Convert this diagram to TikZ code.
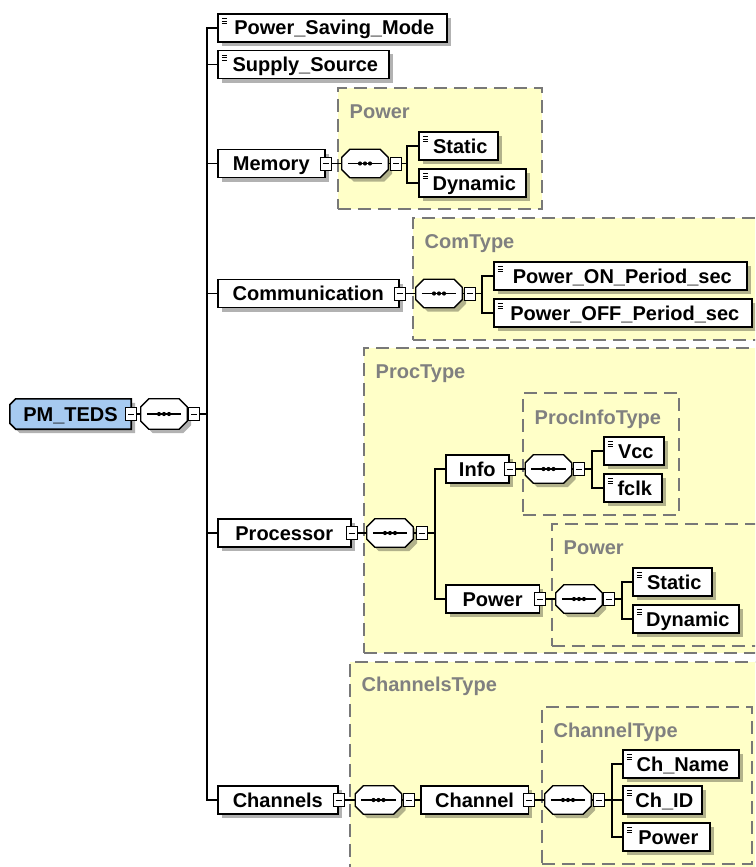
\documentclass[tikz,border=0pt]{standalone}
\usepackage{fontspec}
\setmainfont{Liberation Sans}
\usetikzlibrary{calc,shadows,backgrounds}
\definecolor{typefill}{RGB}{255,255,200}
\definecolor{typedash}{RGB}{120,120,120}
\definecolor{typetext}{RGB}{128,128,128}
\definecolor{globfill}{RGB}{166,202,240}
\newcommand\elemfont{\fontsize{20pt}{24pt}\selectfont\bfseries}
\newcommand\octpath[4]{\path[#4] ($(#1.north west)+(8+#2,#3)$) -- ($(#1.north east)+(-8+#2,#3)$) -- ($(#1.north east)+(#2,8+#3)$) -- ($(#1.south east)+(#2,-8+#3)$) -- ($(#1.south east)+(-8+#2,#3)$) -- ($(#1.south west)+(8+#2,#3)$) -- ($(#1.south west)+(#2,-8+#3)$) -- ($(#1.north west)+(#2,8+#3)$) -- cycle;}
\newcommand\seqnode[3][28]{%
  \node[seqbox, minimum height=#1pt] (#2) at (#3) {};
  \octpath{#2}{4}{4}{fill=black, opacity=0.3}
  \octpath{#2}{0}{0}{draw=black, fill=white, line width=1.3pt}
  \draw[line width=1.4pt] ($(#2.west)+(6,0)$) -- ($(#2.east)+(-6,0)$);
  \fill ($(#2.center)+(-5,0)$) circle (2.1pt) (#2.center) circle (2.1pt) ($(#2.center)+(5,0)$) circle (2.1pt);
}
\tikzset{
  elem/.style={rectangle, draw=black, line width=1.6pt, fill=white, inner sep=0pt,
    minimum height=28pt, anchor=west, font=\elemfont, text height=14pt, text depth=0pt,
    drop shadow={shadow xshift=4pt, shadow yshift=-4pt, fill=black, opacity=0.3}},
  simpel/.style={elem, path picture={\draw[line width=.9pt]
    ([xshift=4pt,yshift=-4.5pt]path picture bounding box.north west) -- ++(5.5pt,0pt)
    ([xshift=4pt,yshift=-7pt]path picture bounding box.north west) -- ++(5.5pt,0pt)
    ([xshift=4pt,yshift=-9.5pt]path picture bounding box.north west) -- ++(5.5pt,0pt);}},
  typebox/.style={rectangle, anchor=north west, inner sep=0pt, draw=typedash, fill=typefill,
    line width=1.6pt, dash pattern=on 13pt off 7pt},
  typelabel/.style={anchor=west, text=typetext, font=\elemfont, inner sep=0pt, text height=14pt, text depth=0pt},
  minusbox/.style={rectangle, draw=black, fill=white, line width=1pt, minimum width=11pt,
    minimum height=13pt, inner sep=0pt, path picture={\draw[line width=1pt]
    ([xshift=2.5pt]path picture bounding box.west) -- ([xshift=-2.5pt]path picture bounding box.east);}},
  seqbox/.style={rectangle, minimum width=46pt, minimum height=28pt, inner sep=0pt},
  conn/.style={draw=black, line width=1.5pt},
}
\begin{document}
\begin{tikzpicture}[x=1pt,y=-1pt]
\useasboundingbox (0,0) rectangle (755,867);
\clip (0,0) rectangle (755,867);
% type boxes
\node[typebox, minimum width=204pt, minimum height=121pt] (tMemPow) at (337,87) {};
\node[typelabel] (tMemPowL) at ($(tMemPow.north west)+(12.5,24.5)$) {Power};
\node[typebox, minimum width=360pt, minimum height=122pt] (tCom) at (412,217) {};
\node[typelabel] (tComL) at ($(tCom.north west)+(12.5,24.5)$) {ComType};
\node[typebox, minimum width=410pt, minimum height=305pt] (tProc) at (363,347) {};
\node[typelabel] (tProcL) at ($(tProc.north west)+(12.5,24.5)$) {ProcType};
\node[typebox, minimum width=156pt, minimum height=122pt] (tInfo) at (522,392) {};
\node[typelabel] (tInfoL) at ($(tInfo.north west)+(12.5,25)$) {ProcInfoType};
\node[typebox, minimum width=222pt, minimum height=122pt] (tPPow) at (551,523) {};
\node[typelabel] (tPPowL) at ($(tPPow.north west)+(12.5,24.5)$) {Power};
\node[typebox, minimum width=424pt, minimum height=230pt] (tChs) at (349,661) {};
\node[typelabel] (tChsL) at ($(tChs.north west)+(12.5,23.5)$) {ChannelsType};
\node[typebox, minimum width=210pt, minimum height=157pt] (tChan) at (541,706) {};
\node[typelabel] (tChanL) at ($(tChan.north west)+(12.5,24)$) {ChannelType};

% root
\node[rectangle, inner sep=0pt, minimum width=121pt, minimum height=30pt, font=\elemfont,
      text height=14pt, text depth=0pt] (pm) at (70.5,414) {PM\_TEDS\hspace{12pt}};
\begin{scope}[on background layer]
  \fill[black, opacity=.3] ($(pm.north west)+(10,4)$) -- ($(pm.north east)+(4,4)$) -- ($(pm.south east)+(4,4)$) -- ($(pm.south west)+(10,4)$) -- ($(pm.south west)+(4,-2)$) -- ($(pm.north west)+(4,10)$) -- cycle;
  \draw[line width=1.6pt, fill=globfill] ($(pm.north west)+(6,0)$) -- (pm.north east) -- (pm.south east) -- ($(pm.south west)+(6,0)$) -- ($(pm.south west)+(0,-6)$) -- ($(pm.north west)+(0,6)$) -- cycle;
\end{scope}
\node[minusbox] (pmx) at (pm.east) {};
\seqnode[30]{pmseq}{164,414}
\node[minusbox] (pmsx) at (194,414) {};
\coordinate (bx) at ($(pmsx.east)+(7,0)$);

% first level
\node[simpel, minimum width=229pt] (psm) at (217,28) {\hspace{4pt}Power\_Saving\_Mode};
\node[simpel, minimum width=171pt] (ss) at (217,64.5) {\hspace{4pt}Supply\_Source};
\node[elem, minimum width=107pt] (mem) at (217,163.5) {Memory};
\node[elem, minimum width=181pt] (com) at (217,293.5) {Communication};
\node[elem, minimum width=133pt] (proc) at (217,533) {Processor};
\node[elem, minimum width=120pt] (chs) at (217,800) {Channels};
\node[minusbox] (memx) at (mem.east) {};
\node[minusbox] (comx) at (com.east) {};
\node[minusbox] (procx) at (proc.east) {};
\node[minusbox] (chsx) at (chs.east) {};

% Memory
\seqnode{memseq}{365,163.5}
\node[minusbox] (memsx) at (396,163.5) {};
\node[simpel, minimum width=79pt] (mst) at (418,146) {\hspace{4pt}Static};
\node[simpel, minimum width=107pt] (mdy) at (418,183) {\hspace{4pt}Dynamic};

% Communication
\seqnode{comseq}{439,293.5}
\node[minusbox] (comsx) at (469.5,293.5) {};
\node[simpel, minimum width=253pt] (pon) at (493,276) {\hspace{4pt}Power\_ON\_Period\_sec};
\node[simpel, minimum width=258pt] (poff) at (493,313) {\hspace{4pt}Power\_OFF\_Period\_sec};

% Processor
\seqnode{procseq}{390,533}
\node[minusbox] (procsx) at (421.5,533) {};
\node[elem, minimum width=63pt] (info) at (445,469) {Info};
\node[elem, minimum width=93.5pt] (ppow) at (445,599) {Power};
\node[minusbox] (infox) at (info.east) {};
\node[minusbox] (ppowx) at (ppow.east) {};
\seqnode{infoseq}{548.5,469}
\node[minusbox] (infosx) at (579,469) {};
\node[simpel, minimum width=60pt] (vcc) at (603,451) {\hspace{4pt}Vcc};
\node[simpel, minimum width=58pt] (fclk) at (603,488) {\hspace{4pt}fclk};
\seqnode{ppowseq}{579,599}
\node[minusbox] (ppowsx) at (609,599) {};
\node[simpel, minimum width=79pt] (pst) at (632,582) {\hspace{4pt}Static};
\node[simpel, minimum width=106pt] (pdy) at (632,619) {\hspace{4pt}Dynamic};

% Channels
\seqnode{chsseq}{378.5,800}
\node[minusbox] (chssx) at (408.5,800) {};
\node[elem, minimum width=107.5pt] (chan) at (420,800) {Channel};
\node[minusbox] (chanx) at (chan.east) {};
\seqnode{chanseq}{568,800}
\node[minusbox] (chansx) at (599,800) {};
\node[simpel, minimum width=116pt] (chname) at (622,764) {\hspace{4pt}Ch\_Name};
\node[simpel, minimum width=79pt] (chid) at (622,800) {\hspace{4pt}Ch\_ID};
\node[simpel, minimum width=87pt] (chpow) at (622,837) {\hspace{4pt}Power};

% connectors
\draw[conn] (pmx.east) -- (pmseq.west);
\draw[conn] (pmseq.east) -- (pmsx.west);
\draw[conn] (pmsx.east) -- (bx);
\draw[conn] (psm.west) -- (psm.west -| bx) |- (chs.west);
\draw[conn] (ss.west) -- (ss.west -| bx);
\draw[conn] (mem.west) -- (mem.west -| bx);
\draw[conn] (com.west) -- (com.west -| bx);
\draw[conn] (proc.west) -- (proc.west -| bx);

\draw[conn] (memx.east) -- (memseq.west);
\draw[conn] (memseq.east) -- (memsx.west);
\coordinate (mb) at ($(mst.west)+(-11,0)$);
\draw[conn] (memsx.east) -- (memsx.east -| mb);
\draw[conn] (mst.west) -- (mst.west -| mb) -- (mdy.west -| mb) -- (mdy.west);

\draw[conn] (comx.east) -- (comseq.west);
\draw[conn] (comseq.east) -- (comsx.west);
\coordinate (cb) at ($(pon.west)+(-11,0)$);
\draw[conn] (comsx.east) -- (comsx.east -| cb);
\draw[conn] (pon.west) -- (pon.west -| cb) -- (poff.west -| cb) -- (poff.west);

\draw[conn] (procx.east) -- (procseq.west);
\draw[conn] (procseq.east) -- (procsx.west);
\coordinate (pb) at ($(info.west)+(-10,0)$);
\draw[conn] (procsx.east) -- (procsx.east -| pb);
\draw[conn] (info.west) -- (info.west -| pb) -- (ppow.west -| pb) -- (ppow.west);

\draw[conn] (infox.east) -- (infoseq.west);
\draw[conn] (infoseq.east) -- (infosx.west);
\coordinate (ib) at ($(vcc.west)+(-11,0)$);
\draw[conn] (infosx.east) -- (infosx.east -| ib);
\draw[conn] (vcc.west) -- (vcc.west -| ib) -- (fclk.west -| ib) -- (fclk.west);

\draw[conn] (ppowx.east) -- (ppowseq.west);
\draw[conn] (ppowseq.east) -- (ppowsx.west);
\coordinate (qb) at ($(pst.west)+(-10,0)$);
\draw[conn] (ppowsx.east) -- (ppowsx.east -| qb);
\draw[conn] (pst.west) -- (pst.west -| qb) -- (pdy.west -| qb) -- (pdy.west);

\draw[conn] (chsx.east) -- (chsseq.west);
\draw[conn] (chsseq.east) -- (chssx.west);
\draw[conn] (chssx.east) -- (chan.west);
\draw[conn] (chanx.east) -- (chanseq.west);
\draw[conn] (chanseq.east) -- (chansx.west);
\coordinate (nb) at ($(chname.west)+(-10,0)$);
\draw[conn] (chansx.east) -- (chansx.east -| nb);
\draw[conn] (chname.west) -- (chname.west -| nb) -- (chpow.west -| nb) -- (chpow.west);
\draw[conn] (chid.west) -- (chid.west -| nb);
\end{tikzpicture}
\end{document}
